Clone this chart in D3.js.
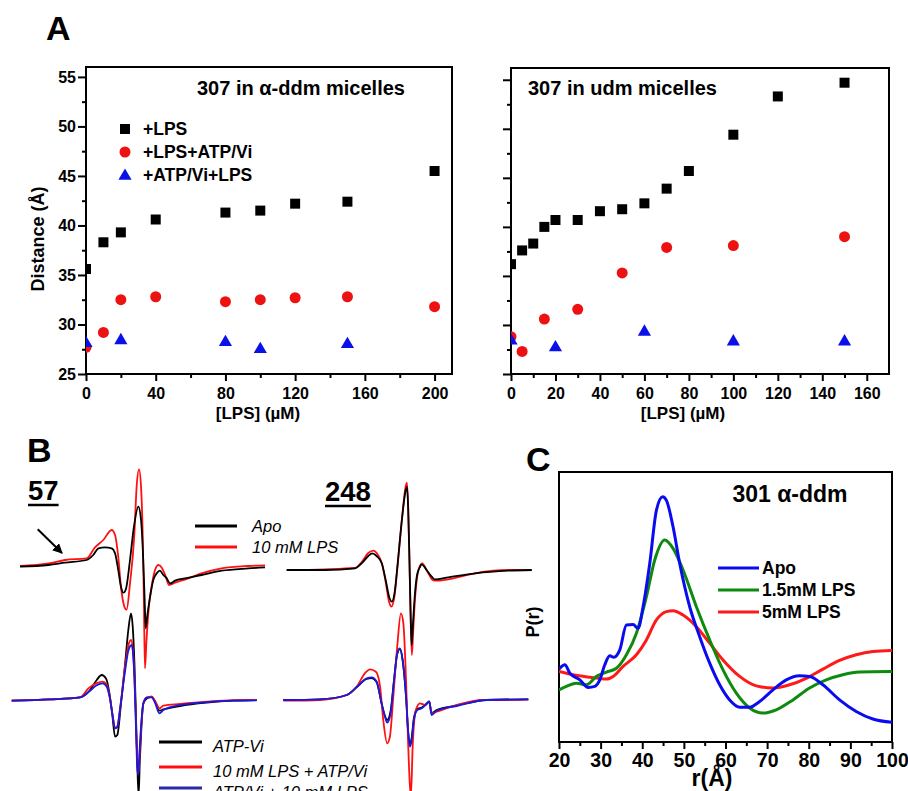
<!DOCTYPE html>
<html>
<head>
<meta charset="UTF-8">
<title>Figure</title>
<script src="https://d3js.org/d3.v7.min.js"></script>
<style>
  body { margin: 0; background: #fff; }
  svg { display: block; }
</style>
</head>
<body>
<div id="chart"></div>
<script>
const FONT = "'Liberation Sans', Arial, Helvetica, sans-serif";

// ---- panel A data: [LPS] (uM) vs distance (A) ----
const lpsLeftX = [0, 10, 20, 40, 80, 100, 120, 150, 200];
const lpsLeftD = [35.6, 38.3, 39.3, 40.6, 41.3, 41.5, 42.2, 42.4, 45.5];
const atpLeftX = [0, 10, 20, 40, 80, 100, 120, 150, 200];
const atpLeftD = [27.7, 29.2, 32.5, 32.8, 32.3, 32.5, 32.7, 32.8, 31.8];
const revLeftX = [0, 20, 80, 100, 150];
const revLeftD = [28.2, 28.5, 28.3, 27.6, 28.1];

const lpsRightX = [0, 5, 10, 15, 20, 30, 40, 50, 60, 70, 80, 100, 120, 150];
const lpsRightD = [36.2, 37.6, 38.3, 40.0, 40.7, 40.7, 41.6, 41.8, 42.4, 43.9, 45.7, 49.4, 53.3, 54.7];
const atpRightX = [0, 5, 15, 30, 50, 70, 100, 150];
const atpRightD = [28.8, 27.3, 30.6, 31.6, 35.3, 37.9, 38.1, 39.0];
const revRightX = [0, 20, 60, 100, 150];
const revRightD = [28.5, 27.8, 29.4, 28.4, 28.4];

const legendA = ["+LPS", "+LPS+ATP/Vi", "+ATP/Vi+LPS"];

// ---- panel B data: EPR spectra, [field (0-100), amplitude] ----
const s57Apo = [[0,0],[11.6,1.7],[18.4,4],[27.2,6.7],[29.9,11.7],[32,18.3],[34.7,19.3],[37.4,18.3],[38.8,13.3],[40.1,-3.3],[41.2,-20],[42.2,-26],[43.3,-21.7],[44.9,6.7],[46.5,40],[48.3,60],[49.4,46.7],[50.3,6.7],[50.9,-35],[51.3,-61.6],[51.9,-50],[53.1,-30],[54.4,-13.3],[55.8,-6.7],[57.1,-4],[58.5,-8.3],[59.9,-11.7],[61.2,-16.7],[63.3,-14],[67.3,-11.7],[74.1,-8.3],[82.3,-4],[93.2,-1.7],[100,-0.7]];
const s57Lps = [[0,0.7],[11.6,3.3],[18.4,6.7],[27.2,8.3],[30.6,19.3],[34,26.7],[37.4,36.7],[38.8,31.7],[40.1,10],[41.2,-20],[42.6,-40],[43.5,-43],[44.9,-16.7],[46.7,33.3],[47.6,80],[48.6,97.4],[49.4,80],[50.1,30],[50.6,-40],[51.0,-101.6],[51.6,-75],[52.6,-40],[53.7,-20],[55.1,-3.3],[56.5,1.7],[57.8,-0.7],[59.5,-10],[60.8,-18.3],[63.3,-16],[68.7,-11.7],[74.1,-6.7],[82.3,-1.7],[93.2,0.7],[100,1.3]];
const s248Apo = [[0,0],[15.6,0],[27.9,1.7],[30.6,6.7],[33.3,14],[34.9,16.7],[36.7,14],[38.8,6.7],[40.4,-10],[41.8,-26.7],[42.9,-31.7],[44,-23.3],[45.3,6.7],[47,50],[48.6,80],[49.1,83.3],[49.6,60],[50.1,10],[50.6,-45],[51.0,-75],[51.5,-55],[52.3,-25],[53.2,-5],[54.4,3],[55.1,5.7],[57.1,0],[59.2,-6.7],[60.5,-9.3],[66,-7.3],[76.9,-3.3],[90.5,-0.7],[100,0]];
const s248Lps = [[0,0],[15.6,0.7],[27.9,2],[30.6,8],[33.3,17],[35.4,19.3],[37,16],[38.8,7],[40.4,-12],[41.8,-32],[42.7,-36.7],[44,-26],[45.3,5],[47,50],[48.6,84],[49.1,87.3],[49.6,62],[50.1,10],[50.6,-50],[51.1,-85],[51.6,-62],[52.4,-28],[53.3,-6],[54.6,5],[55.3,6.7],[57.1,0],[59.2,-9],[60.5,-10.7],[66,-9.3],[76.9,-3.3],[90.5,0],[100,0]];
const s57Atp = [[0,0],[15.6,1.3],[27.9,3.3],[32,10.7],[34.7,20.7],[36.7,25.7],[38.5,22.3],[39.9,7.3],[41,-12.7],[42.2,-36],[43.1,-34.3],[44.5,-6],[46.3,37.3],[47.6,70.7],[48.7,87.3],[49.4,74],[50.1,37.3],[50.7,-12.7],[51.3,-66],[51.8,-95],[52.3,-60],[52.9,-29],[53.7,-3],[55.1,2.3],[57.1,4],[58.5,-1],[60.3,-10],[61.9,-8.7],[68.7,-5.3],[79.6,-2],[90.5,0],[100,0.7]];
const s57LpsAtp = [[0,0],[15.6,1.3],[27.9,3.3],[31.3,12.3],[34.7,17.5],[37.1,19],[38.8,16],[40.1,3],[41.2,-15],[42.2,-27.7],[43.1,-26],[44.5,-3],[46.3,35],[47.6,55],[48.7,60.7],[49.4,52],[50.1,25],[50.7,-20],[51.3,-60],[51.8,-72],[52.3,-50],[52.9,-25],[53.7,-3],[55.1,3.3],[57.1,4],[58.5,0],[60.3,-7.7],[61.9,-5],[68.7,-3.3],[79.6,-1],[90.5,0.5],[100,0.7]];
const s57AtpLps = [[0,0],[15.6,1.3],[27.9,3.3],[32,10],[34.7,15.5],[37.1,17.3],[38.8,14],[40.1,2],[41.2,-15],[42.2,-27.7],[43.1,-26],[44.5,-3],[46.3,30],[47.6,50],[49,55.7],[49.6,45],[50.2,15],[50.7,-25],[51.2,-65],[51.6,-74.3],[52.2,-50],[52.9,-22],[53.7,-3],[55.1,3],[57.1,3.3],[58.5,-2],[60.3,-12.7],[61.9,-9.3],[68.7,-4.5],[79.6,-1.5],[90.5,0],[100,0.3]];
const s248Atp = [[0,0],[15,0.7],[25.9,5],[29.9,12.7],[34,21],[36.1,22],[38.1,18],[40.1,-3],[41.5,-16],[42.4,-20],[43.8,-11],[45.2,20],[46.5,46],[47.6,51],[48.7,40],[50.1,3.3],[51,-33],[51.7,-44],[52.4,-38],[53.3,-18],[54.7,-9],[56.5,-7.5],[58.5,-3.5],[59.6,-1.5],[60.5,-13],[62.6,-10],[70.7,-5.5],[83,0],[100,0.7]];
const s248LpsAtp = [[0,-0.7],[15,0],[25.9,5],[29.9,13.3],[33.3,26.7],[35.4,30.7],[37.8,28.3],[39.5,13.3],[40.8,-20],[42.4,-43.3],[43.5,-36.7],[44.9,3.3],[46.5,53.3],[48,86.7],[49,76.7],[50.1,20],[51,-46.7],[51.7,-86.7],[52.1,-95],[52.8,-46.7],[54.1,-10],[55.8,-3.3],[57.8,-5],[59.6,-1.7],[60.5,-13.3],[62.6,-11.7],[70.7,-5],[81.6,0],[89.8,0],[100,0.7]];
const s248AtpLps = [[0,0],[15,0.7],[25.9,5],[29.9,12.7],[34,21.7],[36.1,22.7],[38.1,18.3],[40.1,-3.3],[41.5,-16.7],[42.4,-22.7],[43.8,-13.3],[45.2,20],[46.5,46.7],[47.6,51.7],[48.7,40],[50.1,3.3],[51,-33.3],[51.7,-46.7],[52.4,-40],[53.3,-20],[54.7,-10],[56.5,-8.3],[58.5,-4],[59.6,-1.7],[60.5,-15],[62.6,-10.7],[70.7,-6],[83,0],[100,0.7]];

const legendBTop = ["Apo", "10 mM LPS"];
const legendBBottom = ["ATP-Vi", "10 mM LPS + ATP/Vi", "ATP/Vi  + 10 mM LPS"];

// ---- panel C data: distance distributions ----
const apoR = [20,21.4,22.6,25,27,28.6,29.8,31,32.2,33.2,34.6,36.2,37.8,39,40.2,41.8,43.4,44.9,45.8,47.4,49,51.4,53.8,56.2,58.6,61,63.4,65.8,68.2,71.4,74.6,77.8,80.2,83.4,87.4,91.4,95.4,100];
const apoP = [27,28.6,25.5,23,20.2,20.6,23,28.6,31.9,31.4,34.1,43.3,43.5,42.1,50.1,66.1,85.8,90.8,89.5,79.7,66.1,50.1,39,29.2,21.2,15.6,12.9,12.9,15,19.3,23,24.5,24.3,21.2,15.6,11.3,8.5,7.3];
const lps15R = [20,21.8,24.2,26.6,29,31.4,33.8,36.2,38.6,41,43,45.4,47.4,49.8,53,56.2,59.4,62.6,65.8,69,72.2,76.2,80.2,84.2,88.2,92.2,100];
const lps15P = [19.3,20.6,21.8,21.2,24.3,25.9,27.3,32.3,40.3,53.8,67.4,74.8,71.7,63.7,50.1,37.8,26.7,18.1,12.6,10.7,11.9,15.6,20,23,24.9,25.9,26.1];
const lps5R = [20,23.4,27.4,31.4,33,35.4,38.6,41,43.4,45.8,47.4,49.8,53,56.2,59.4,63.4,67.4,71.4,75.4,79.4,83.4,87.4,91.4,95.4,100];
const lps5P = [26.1,24.9,24,23.3,24.3,28,32.3,37.8,45.2,48.3,48.6,47,42.7,36.6,30.4,24.3,20.8,20,21.2,23.6,27,30.2,32.3,33.5,33.9];
const legendC = ["Apo", "1.5mM LPS", "5mM LPS"];

const svg = d3.select("#chart").append("svg")
  .attr("width", 908).attr("height", 791)
  .style("font-family", FONT);

function label(x, y, str, size, opts = {}) {
  const t = svg.append("text")
    .attr("x", x).attr("y", y)
    .attr("font-size", size)
    .attr("font-weight", opts.weight || "bold")
    .attr("font-style", opts.style || "normal")
    .attr("text-anchor", opts.anchor || "start")
    .attr("fill", "#000")
    .text(str);
  if (opts.rotate) t.attr("transform", `rotate(-90,${x},${y})`);
  return t;
}

function frame(x, y, id) {
  const [x0, x1] = x.range(), [y0, y1] = y.range();
  svg.append("clipPath").attr("id", id)
    .append("rect").attr("x", x0).attr("y", y1).attr("width", x1 - x0).attr("height", y0 - y1);
  svg.append("rect")
    .attr("x", x0).attr("y", y1).attr("width", x1 - x0).attr("height", y0 - y1)
    .attr("fill", "none").attr("stroke", "#000").attr("stroke-width", 2);
}

function styleAxis(g, size) {
  g.select(".domain").remove();
  g.selectAll(".tick line").attr("stroke-width", 2);
  g.selectAll(".tick text").attr("font-size", size).attr("font-weight", "bold")
    .attr("font-family", FONT).attr("fill", "#000");
}

function xAxis(x, y0, major, minor, size, pad) {
  svg.append("g").attr("transform", `translate(0,${y0})`)
    .call(d3.axisBottom(x).tickValues(minor).tickSize(4).tickFormat(""))
    .call(g => styleAxis(g, size));
  svg.append("g").attr("transform", `translate(0,${y0})`)
    .call(d3.axisBottom(x).tickValues(major).tickSize(7).tickPadding(pad).tickFormat(d3.format("d")))
    .call(g => styleAxis(g, size));
}

function yAxis(y, x0, major, minor, showLabels) {
  svg.append("g").attr("transform", `translate(${x0},0)`)
    .call(d3.axisLeft(y).tickValues(minor).tickSize(4).tickFormat(""))
    .call(g => styleAxis(g, 16));
  svg.append("g").attr("transform", `translate(${x0},0)`)
    .call(d3.axisLeft(y).tickValues(major).tickSize(8).tickPadding(2)
      .tickFormat(showLabels ? d3.format("d") : ""))
    .call(g => styleAxis(g, 16));
}

const sqr = d3.symbol(d3.symbolSquare, 100)();
const tri = d3.symbol(d3.symbolTriangle, 75)();

function markers(xs, ys, x, y, kind, color, clip) {
  const g = svg.append("g").attr("clip-path", `url(#${clip})`);
  const data = xs.map((v, i) => [v, ys[i]]);
  if (kind === "circle") {
    g.selectAll("circle").data(data).join("circle")
      .attr("cx", d => x(d[0])).attr("cy", d => y(d[1])).attr("r", 5.5).attr("fill", color);
  } else {
    g.selectAll("path").data(data).join("path")
      .attr("d", kind === "square" ? sqr : tri)
      .attr("transform", d => `translate(${x(d[0])},${y(d[1]) + (kind === "tri" ? 1 : 0)})`)
      .attr("fill", color);
  }
}

// ================= Panel A =================
label(46, 40, "A", 34);

const xL = d3.scaleLinear().domain([0, 210]).range([86, 452]);
const yL = d3.scaleLinear().domain([25, 56]).range([374, 67]);
const xR = d3.scaleLinear().domain([0, 170]).range([511, 889]);
const yR = d3.scaleLinear().domain([25, 56.2]).range([374, 68]);

frame(xL, yL, "clipL");
frame(xR, yR, "clipR");

const yMajor = d3.range(25, 56, 5);
const yMinor = d3.range(27.5, 56, 5);
yAxis(yL, 86, yMajor, yMinor, true);
yAxis(yR, 511, yMajor, yMinor, false);
xAxis(xL, 374, d3.range(0, 201, 40), d3.range(20, 201, 40), 16, 7);
xAxis(xR, 374, d3.range(0, 161, 20), d3.range(10, 170, 20), 16, 7);

markers(lpsLeftX, lpsLeftD, xL, yL, "square", "#000", "clipL");
markers(atpLeftX, atpLeftD, xL, yL, "circle", "#ee1111", "clipL");
markers(revLeftX, revLeftD, xL, yL, "tri", "#0a10e8", "clipL");
markers(lpsRightX, lpsRightD, xR, yR, "square", "#000", "clipR");
markers(atpRightX, atpRightD, xR, yR, "circle", "#ee1111", "clipR");
markers(revRightX, revRightD, xR, yR, "tri", "#0a10e8", "clipR");

label(197, 95, "307 in \u03b1-ddm micelles", 20);
label(528, 95, "307 in udm micelles", 20);

const legY = [129, 152, 175];
svg.append("path").attr("d", sqr).attr("transform", `translate(125,${legY[0]})`).attr("fill", "#000");
svg.append("circle").attr("cx", 125).attr("cy", legY[1]).attr("r", 5.5).attr("fill", "#ee1111");
svg.append("path").attr("d", tri).attr("transform", `translate(125,${legY[2] + 1})`).attr("fill", "#0a10e8");
legendA.forEach((t, i) => label(143, legY[i] + 6, t, 17.5));

label(44, 239, "Distance (\u00c5)", 18, { anchor: "middle", rotate: true });
label(258, 419, "[LPS] (\u00b5M)", 17, { anchor: "middle" });
label(683, 419, "[LPS] (\u00b5M)", 17, { anchor: "middle" });

// ================= Panel B =================
label(27, 462, "B", 34);

function underlined(x, y, str) {
  const t = label(x, y, str, 27.5);
  const w = t.node().getComputedTextLength();
  svg.append("line").attr("x1", x).attr("x2", x + w).attr("y1", y + 5).attr("y2", y + 5)
    .attr("stroke", "#000").attr("stroke-width", 2.5);
}
underlined(28, 500, "57");
underlined(325, 501, "248");

function spectrum(pts, x0, x1, base, color) {
  const sx = d3.scaleLinear().domain([0, 100]).range([x0, x1]);
  const sy = d3.scaleLinear().domain([-100, 100]).range([base + 100, base - 100]);
  const line = d3.line().x(d => sx(d[0])).y(d => sy(d[1])).curve(d3.curveMonotoneX);
  svg.append("path").attr("d", line(pts)).attr("fill", "none")
    .attr("stroke", color).attr("stroke-width", 1.8).attr("stroke-linejoin", "round");
}

const RED = "#ff1010", BLUE = "#1818e0";
spectrum(s57Lps, 20, 265, 566.7, RED);
spectrum(s57Apo, 20, 265, 566.7, "#000");
spectrum(s248Lps, 286.7, 531.7, 570, RED);
spectrum(s248Apo, 286.7, 531.7, 570, "#000");
spectrum(s57Atp, 11.7, 256.7, 700.7, "#000");
spectrum(s57LpsAtp, 11.7, 256.7, 700.7, RED);
spectrum(s57AtpLps, 11.7, 256.7, 700.7, BLUE);
spectrum(s248Atp, 283.3, 528.3, 700, "#000");
spectrum(s248LpsAtp, 283.3, 528.3, 700, RED);
spectrum(s248AtpLps, 283.3, 528.3, 700, BLUE);

// arrow pointing at the shoulder
svg.append("defs").append("marker").attr("id", "ah")
  .attr("viewBox", "0 0 10 10").attr("refX", 9).attr("refY", 5)
  .attr("markerWidth", 5).attr("markerHeight", 5).attr("orient", "auto")
  .append("path").attr("d", "M0,0L10,5L0,10z").attr("fill", "#000");
svg.append("line").attr("x1", 37.7).attr("y1", 529.3).attr("x2", 62).attr("y2", 553)
  .attr("stroke", "#000").attr("stroke-width", 2).attr("marker-end", "url(#ah)");

const topLegY = [526, 547];
["#000", RED].forEach((c, i) => {
  svg.append("line").attr("x1", 195).attr("x2", 237).attr("y1", topLegY[i]).attr("y2", topLegY[i])
    .attr("stroke", c).attr("stroke-width", 3);
  label(252, topLegY[i] + 6, legendBTop[i], 16.5, { weight: "normal", style: "italic" });
});

const botLegY = [742, 767, 788];
["#000", RED, "#2a2aa8"].forEach((c, i) => {
  svg.append("line").attr("x1", 159).attr("x2", 202).attr("y1", botLegY[i]).attr("y2", botLegY[i])
    .attr("stroke", c).attr("stroke-width", 3);
  label(213, botLegY[i] + 10, legendBBottom[i], 16.5, { weight: "normal", style: "italic" });
});

// ================= Panel C =================
label(526, 471, "C", 34);

const xC = d3.scaleLinear().domain([20, 100]).range([559, 892]);
const yC = d3.scaleLinear().domain([0, 100]).range([742, 472]);
frame(xC, yC, "clipC");
xAxis(xC, 742, d3.range(20, 101, 10), d3.range(25, 100, 10), 19.5, 4);

const lineC = d3.line().x(d => xC(d[0])).y(d => yC(d[1])).curve(d3.curveMonotoneX);
const cSeries = [
  [lps5R, lps5P, "#ff1a1a"],
  [lps15R, lps15P, "#0e8a0e"],
  [apoR, apoP, "#0b0bef"]
];
const gC = svg.append("g").attr("clip-path", "url(#clipC)");
cSeries.forEach(([r, p, c]) => {
  gC.append("path").attr("d", lineC(r.map((v, i) => [v, p[i]])))
    .attr("fill", "none").attr("stroke", c).attr("stroke-width", 3);
});

label(790, 502, "301 \u03b1-ddm", 23, { anchor: "middle" });
const cLegY = [568, 590, 612];
["#0b0bef", "#0e8a0e", "#ff1a1a"].forEach((c, i) => {
  svg.append("line").attr("x1", 718).attr("x2", 759).attr("y1", cLegY[i]).attr("y2", cLegY[i])
    .attr("stroke", c).attr("stroke-width", 3);
  label(762, cLegY[i] + 6, legendC[i], 17.5);
});

label(539, 622, "P(r)", 18, { anchor: "middle", rotate: true });
label(712, 786, "r(\u00c5)", 23, { anchor: "middle" });
</script>
</body>
</html>
